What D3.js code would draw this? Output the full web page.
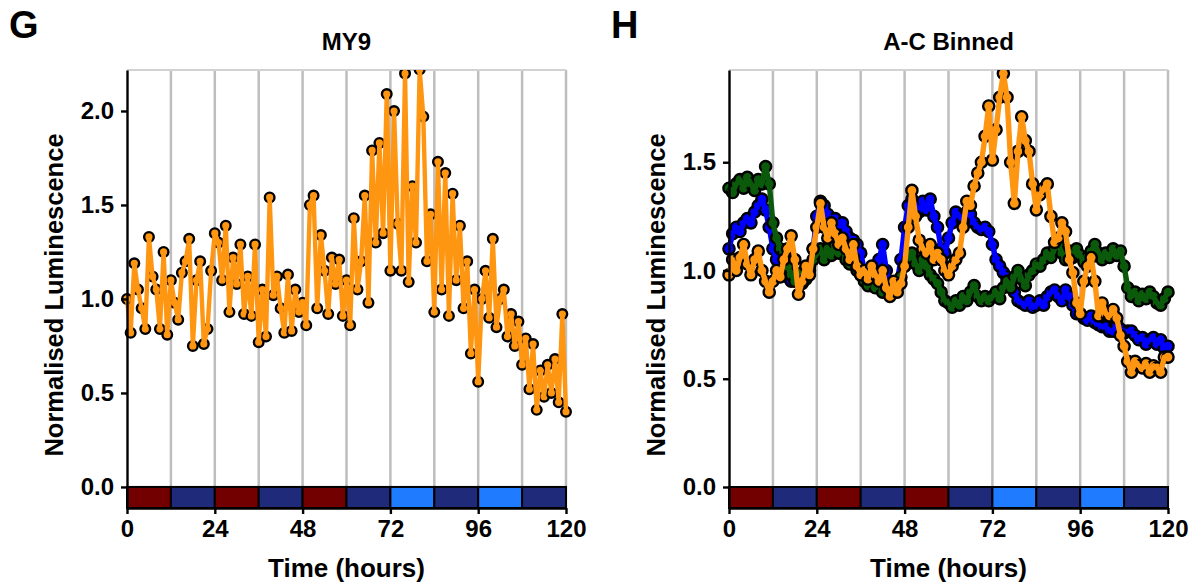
<!DOCTYPE html>
<html>
<head>
<meta charset="utf-8">
<script src="https://cdn.jsdelivr.net/npm/d3@7"></script>
<style>
  body { margin: 0; background: #fff; }
  text { font-family: "Liberation Sans", Arial, sans-serif; font-weight: bold; }
</style>
</head>
<body>
<div id="chart"></div>
<script>
// Hourly normalised luminescence, 0..120 h
const my9 = [
  1.00, 0.82, 1.19, 1.05, 0.95, 0.84, 1.33, 1.12, 1.05, 0.84,
  1.25, 0.81, 1.10, 0.98, 0.89, 1.14, 1.20, 1.32, 0.75, 1.10,
  1.20, 0.76, 0.84, 1.15, 1.35, 1.30, 1.10, 1.39, 0.93, 1.22,
  1.08, 1.29, 0.92, 1.12, 0.91, 1.29, 0.77, 1.05, 0.80, 1.54,
  1.02, 1.12, 0.95, 0.82, 1.13, 0.83, 1.05, 0.93, 0.98, 0.86,
  1.50, 1.55, 0.95, 1.34, 1.15, 0.92, 1.22, 1.08, 1.21, 0.91,
  1.10, 0.86, 1.43, 1.05, 1.20, 1.55, 0.98, 1.79, 1.30, 1.83,
  1.35, 2.09, 1.15, 2.00, 1.40, 1.15, 2.20, 1.09, 1.60, 1.30,
  2.22, 1.97, 1.20, 1.45, 0.93, 1.73, 1.05, 1.67, 0.91, 1.56,
  1.10, 1.39, 0.95, 1.20, 0.71, 1.05, 0.56, 1.00, 1.15, 0.90,
  1.32, 0.85, 1.00, 1.05, 0.80, 0.92, 0.75, 0.88, 0.65, 0.79,
  0.52, 0.76, 0.41, 0.62, 0.48, 0.65, 0.50, 0.68, 0.45, 0.92,
  0.40
];

const binA = [
  1.10, 1.17, 1.20, 1.18, 1.22, 1.24, 1.22, 1.27, 1.30, 1.33,
  1.28, 1.20, 1.10, 1.05, 1.00, 0.98, 0.97, 0.95, 0.98, 0.96,
  0.94, 0.97, 1.02, 1.10, 1.25, 1.32, 1.30, 1.26, 1.22, 1.24,
  1.20, 1.22, 1.18, 1.15, 1.14, 1.12, 1.08, 1.00, 0.95, 0.93,
  0.95, 1.05, 1.12, 1.00, 0.92, 0.90, 0.95, 1.05, 1.20, 1.30,
  1.33, 1.30, 1.27, 1.32, 1.28, 1.33, 1.25, 1.20, 1.10, 1.08,
  1.15, 1.22, 1.27, 1.25, 1.24, 1.27, 1.26, 1.22, 1.20, 1.19,
  1.20, 1.18, 1.12, 1.05, 1.02, 0.99, 0.97, 0.93, 0.90, 0.86,
  0.85, 0.84, 0.86, 0.83, 0.84, 0.86, 0.84, 0.88, 0.90, 0.91,
  0.88, 0.86, 0.91, 0.88, 0.84, 0.80, 0.80, 0.78, 0.77, 0.79,
  0.76, 0.75, 0.74, 0.74, 0.72, 0.72, 0.75, 0.73, 0.71, 0.72,
  0.72, 0.70, 0.68, 0.69, 0.66, 0.68, 0.69, 0.66, 0.68, 0.64,
  0.65
];

const binB = [
  1.38, 1.36, 1.40, 1.42, 1.38, 1.43, 1.40, 1.37, 1.42, 1.40,
  1.48, 1.40, 1.22, 1.15, 1.10, 1.08, 1.02, 0.98, 0.95, 0.97,
  0.99, 0.96, 1.00, 1.05, 1.08, 1.10, 1.05, 1.10, 1.07, 1.12,
  1.08, 1.10, 1.05, 1.03, 1.06, 1.00, 0.98, 0.95, 0.93, 0.96,
  0.92, 0.95, 0.90, 0.93, 0.90, 0.94, 0.92, 0.97, 1.02, 1.05,
  1.08, 1.03, 1.00, 1.05, 1.02, 0.98, 0.96, 0.94, 0.90, 0.86,
  0.85, 0.83, 0.86, 0.84, 0.88, 0.86, 0.90, 0.93, 0.88, 0.86,
  0.88, 0.86, 0.88, 0.90, 0.87, 0.92, 0.95, 0.92, 0.97, 1.00,
  0.96, 0.93, 0.98, 1.00, 1.03, 1.02, 1.05, 1.08, 1.06, 1.10,
  1.12, 1.08, 1.05, 1.09, 1.06, 1.10, 1.07, 1.04, 1.06, 1.09,
  1.12, 1.08, 1.05, 1.08, 1.06, 1.10, 1.07, 1.09, 1.02, 0.92,
  0.88, 0.90, 0.86, 0.89, 0.87, 0.90, 0.88, 0.85, 0.84, 0.87,
  0.90
];

const binC = [
  0.98, 1.05, 1.00, 1.06, 1.12, 1.03, 0.98, 1.05, 1.09, 1.00,
  0.95, 0.90, 0.95, 1.00, 0.97, 1.05, 1.10, 1.16, 1.05, 0.89,
  0.95, 1.02, 0.98, 1.10, 1.20, 1.31, 1.20, 1.15, 1.22, 1.17,
  1.12, 1.15, 1.10, 1.05, 1.12, 1.02, 0.98, 1.00, 0.96, 1.02,
  0.98, 0.95, 1.00, 0.92, 0.88, 0.95, 0.90, 0.94, 1.02, 1.20,
  1.37, 1.25, 1.14, 1.10, 1.08, 1.12, 1.05, 1.08, 1.05, 1.00,
  0.98, 1.02, 1.05, 1.08, 1.20, 1.32, 1.30, 1.39, 1.45, 1.50,
  1.62, 1.76, 1.51, 1.65, 1.80, 1.91, 1.80, 1.50, 1.31, 1.55,
  1.71, 1.60, 1.55, 1.40, 1.28, 1.35, 1.38, 1.40, 1.25, 1.13,
  1.15, 1.22, 1.18, 1.05, 0.99, 0.85, 0.80, 0.95, 1.02, 1.06,
  0.95, 0.79, 0.85, 0.80, 0.79, 0.82, 0.78, 0.70, 0.65, 0.58,
  0.53, 0.58, 0.56, 0.55, 0.57, 0.53, 0.56, 0.55, 0.53, 0.60,
  0.60
];

const xTicks = [0, 24, 48, 72, 96, 120];
const phaseStarts = [0, 12, 24, 36, 48, 60, 72, 84, 96, 108];
const phaseLight = ["red", "dark", "red", "dark", "red", "dark", "blue", "dark", "blue", "dark"];
const lightColour = { red: "#730000", dark: "#1f2b7a", blue: "#1f7bff" };

const width = 1198, height = 585;
const plotTop = 70, plotBottom = 508;

const svg = d3.select("#chart")
  .append("svg")
    .attr("width", width)
    .attr("height", height);

const panels = [
  { letter: "G", title: "MY9", left: 127, right: 566, yMin: -0.112, yMax: 2.218,
    yTicks: [0, 0.5, 1, 1.5, 2], r: 4.8, lw: 4.4,
    series: [{ values: my9, colour: "#ff9612" }] },
  { letter: "H", title: "A-C Binned", left: 729, right: 1168, yMin: -0.097, yMax: 1.926,
    yTicks: [0, 0.5, 1, 1.5], r: 5.6, lw: 5.4,
    series: [
      { values: binA, colour: "#0000ff" },
      { values: binB, colour: "#0b5a0b" },
      { values: binC, colour: "#ff9612" }
    ] }
];

panels.forEach((p, i) => {
  let x = d3.scaleLinear().domain([0, 120]).range([p.left, p.right]);
  let y = d3.scaleLinear().domain([p.yMin, p.yMax]).range([plotBottom, plotTop]);
  let g = svg.append("g");

  // panel letter and title
  g.append("text")
    .attr("x", p.left - 118)
    .attr("y", 38)
    .style("font-size", "38px")
    .text(p.letter);
  g.append("text")
    .attr("x", (p.left + p.right) / 2)
    .attr("y", 50)
    .attr("text-anchor", "middle")
    .style("font-size", "24px")
    .text(p.title);

  // grid lines every 12 h + top border
  g.selectAll(".grid")
    .data(phaseStarts.slice(1).concat([120]))
    .join("line")
      .attr("x1", d => x(d)).attr("x2", d => x(d))
      .attr("y1", plotTop).attr("y2", plotBottom)
      .attr("stroke", "#bebebe")
      .attr("stroke-width", 2.5);
  g.append("line")
    .attr("x1", p.left).attr("x2", p.right)
    .attr("y1", plotTop).attr("y2", plotTop)
    .attr("stroke", "#d2d2d2")
    .attr("stroke-width", 2);

  // clip for data
  let clipId = "clip" + i;
  svg.append("clipPath").attr("id", clipId)
    .append("rect")
      .attr("x", p.left - 8).attr("y", plotTop)
      .attr("width", p.right - p.left + 16)
      .attr("height", y(0) - plotTop);

  let line = d3.line()
    .x((d, j) => x(j))
    .y(d => y(d));

  let data = g.append("g").attr("clip-path", `url(#${clipId})`);
  p.series.forEach(s => {
    data.append("g")
      .selectAll("circle")
      .data(s.values)
      .join("circle")
        .attr("cx", (d, j) => x(j))
        .attr("cy", d => y(d))
        .attr("r", p.r)
        .attr("fill", s.colour)
        .attr("stroke", "#000")
        .attr("stroke-width", 2.4);
    data.append("path")
      .datum(s.values)
      .attr("d", line)
      .attr("fill", "none")
      .attr("stroke", s.colour)
      .attr("stroke-width", p.lw)
      .attr("stroke-linejoin", "round");
  });

  // light/dark bar
  g.selectAll(".phase")
    .data(phaseStarts)
    .join("rect")
      .attr("x", d => x(d))
      .attr("y", y(0))
      .attr("width", x(12) - x(0))
      .attr("height", y(p.yMin) - y(0))
      .attr("fill", (d, j) => lightColour[phaseLight[j]])
      .attr("stroke", "#000")
      .attr("stroke-width", 2);

  // axes
  let yAxis = g.append("g")
    .attr("transform", `translate(${p.left},0)`)
    .call(d3.axisLeft(y).tickValues(p.yTicks).tickFormat(d3.format(".1f"))
      .tickSize(6).tickSizeOuter(0).tickPadding(7));
  let xAxis = g.append("g")
    .attr("transform", `translate(0,${plotBottom})`)
    .call(d3.axisBottom(x).tickValues(xTicks).tickFormat(d3.format("d"))
      .tickSize(6).tickSizeOuter(0).tickPadding(6));
  [yAxis, xAxis].forEach(a => {
    a.select(".domain").attr("stroke", "#000").attr("stroke-width", 2.4);
    a.selectAll(".tick line").attr("stroke", "#000").attr("stroke-width", 2.4);
    a.selectAll(".tick text")
      .attr("fill", "#000")
      .style("font-family", "'Liberation Sans', Arial, sans-serif")
      .style("font-weight", "bold")
      .style("font-size", "24px");
  });

  // axis titles
  g.append("text")
    .attr("transform", `translate(${p.left - 64},${(plotTop + plotBottom) / 2 + 6}) rotate(-90)`)
    .attr("text-anchor", "middle")
    .style("font-size", "25.5px")
    .text("Normalised Luminescence");
  g.append("text")
    .attr("x", (p.left + p.right) / 2)
    .attr("y", 577)
    .attr("text-anchor", "middle")
    .style("font-size", "26px")
    .text("Time (hours)");
});
</script>
</body>
</html>
